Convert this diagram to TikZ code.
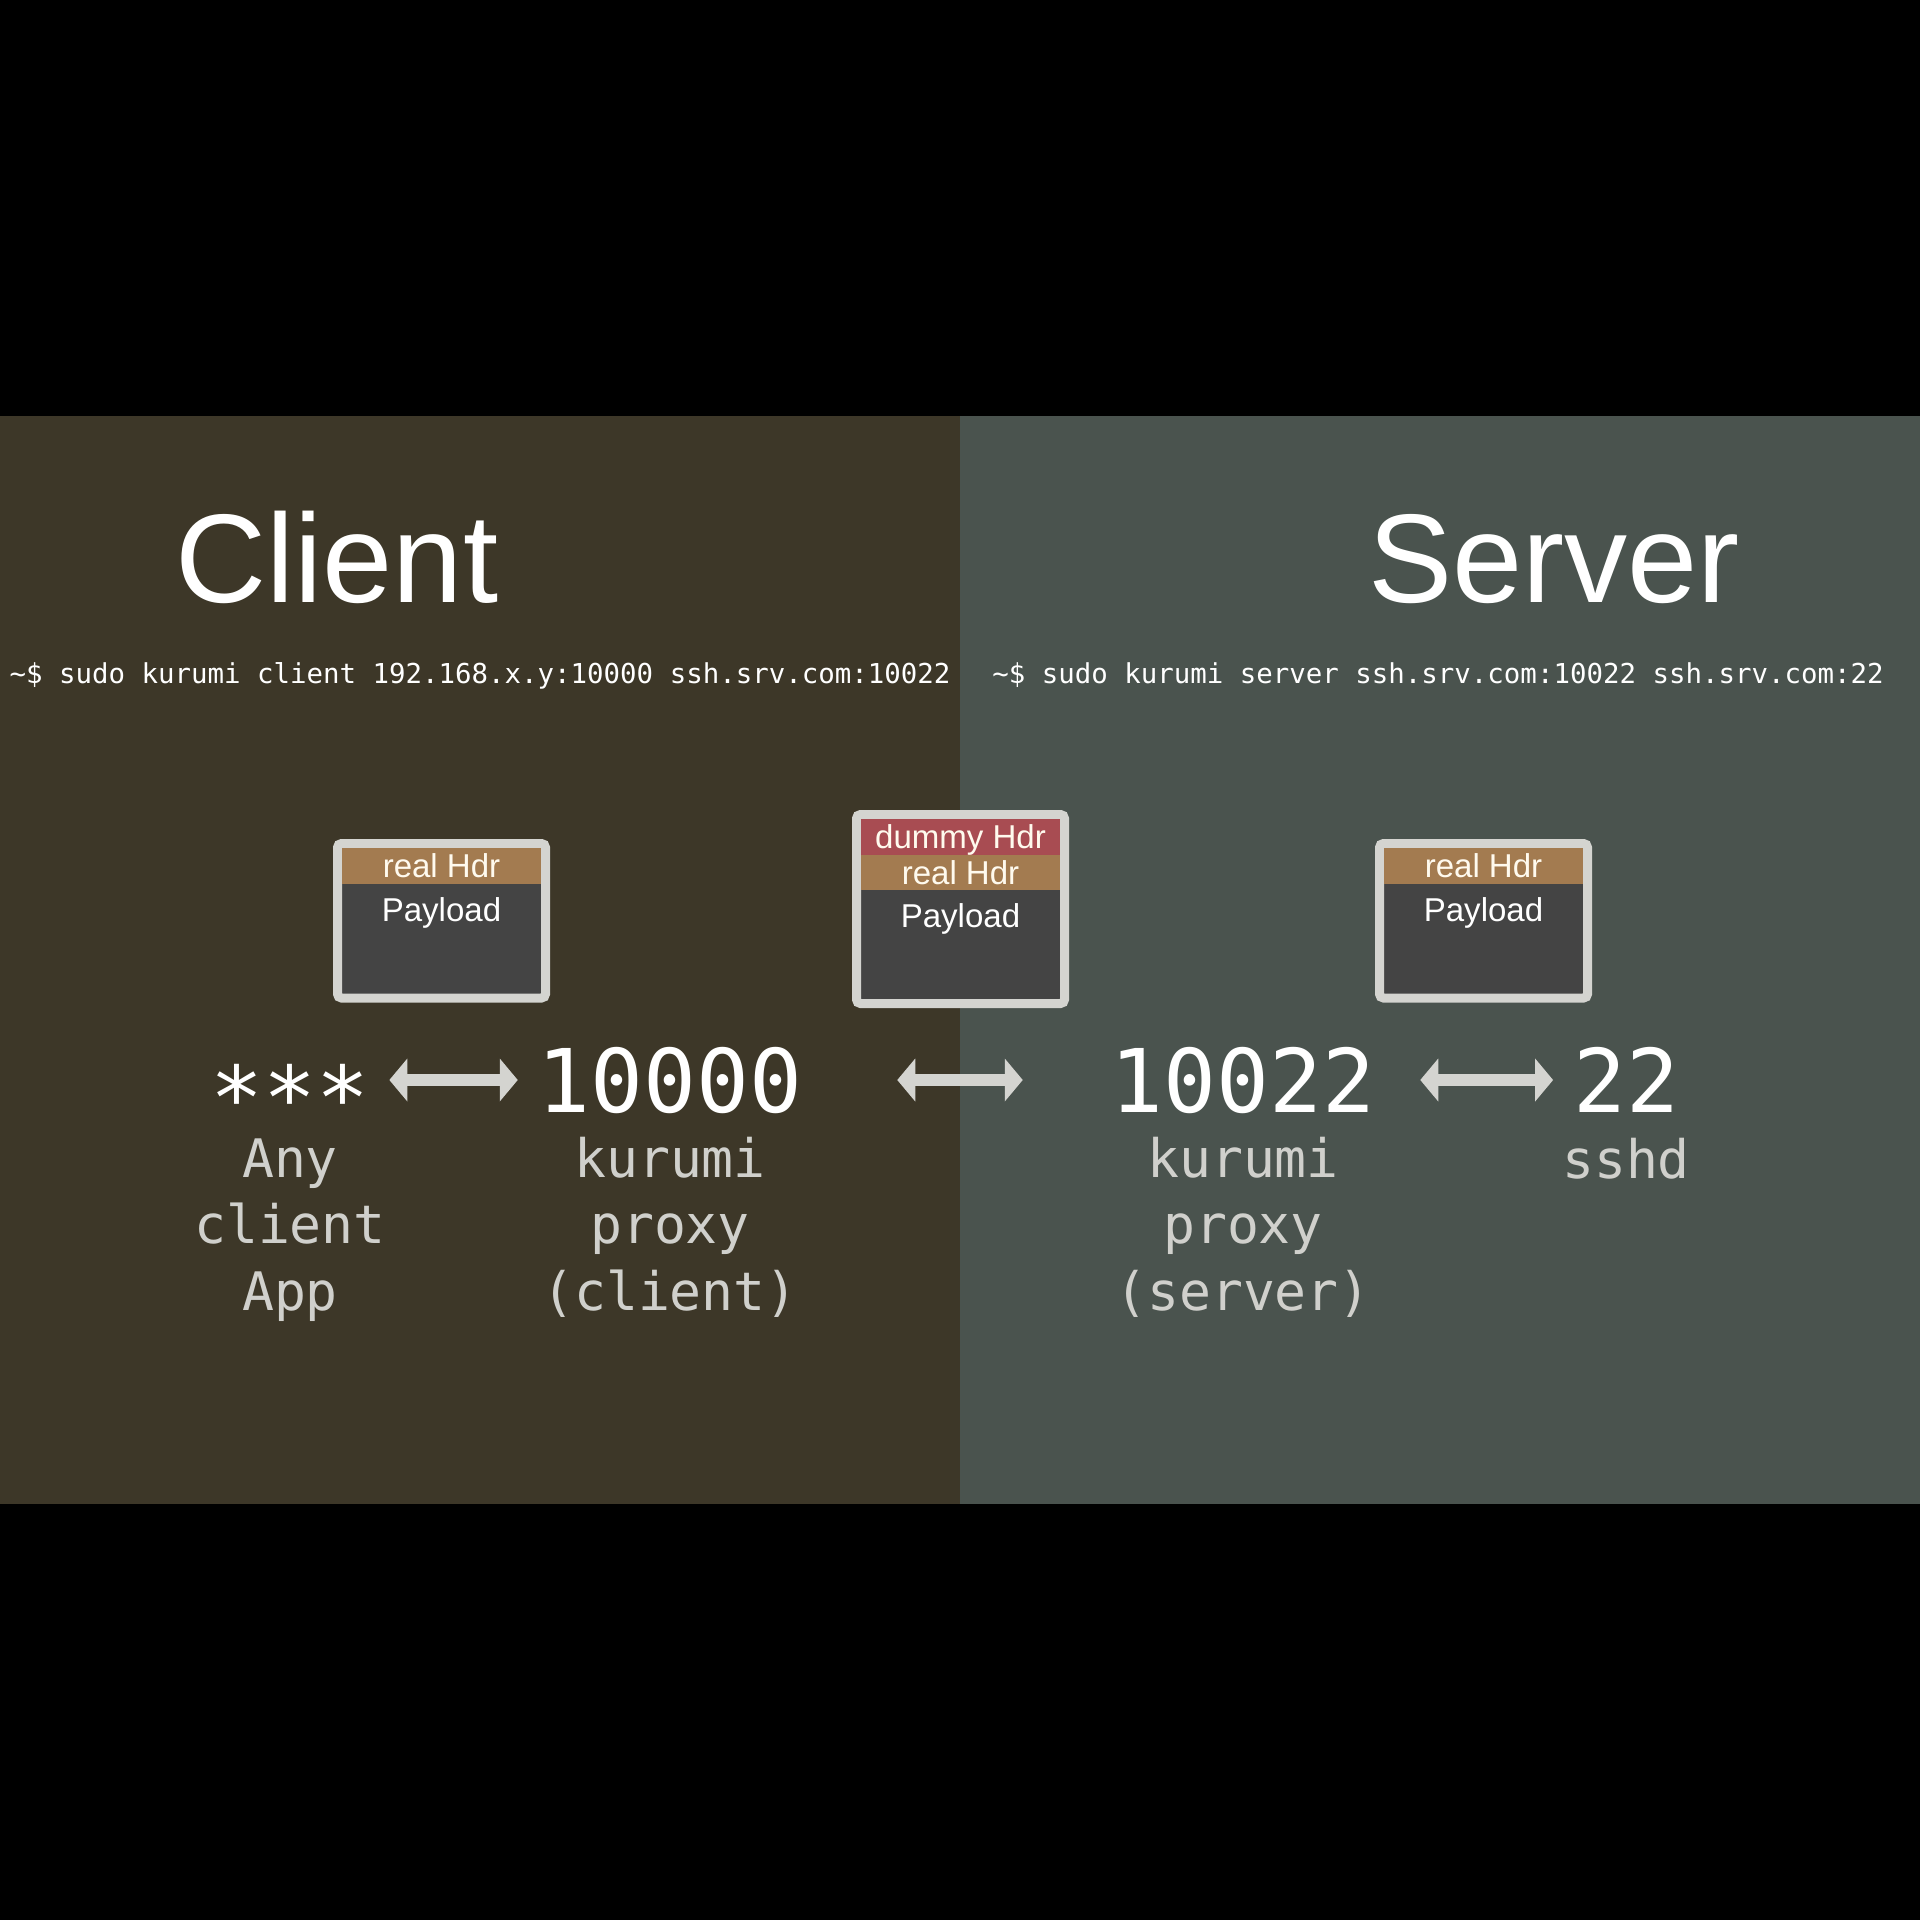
\documentclass[tikz,border=0pt]{standalone}
\usepackage{fontspec}
\setmainfont{Liberation Sans}
\setmonofont{DejaVu Sans Mono}
\usetikzlibrary{arrows.meta,positioning,calc}
\definecolor{clbg}{RGB}{61,55,40}
\definecolor{srvbg}{RGB}{74,83,78}
\definecolor{framecol}{RGB}{212,212,208}
\definecolor{paycol}{RGB}{68,68,68}
\definecolor{realcol}{RGB}{163,123,80}
\definecolor{dummycol}{RGB}{168,76,82}
\definecolor{hdrtext}{RGB}{255,250,238}
\definecolor{lblcol}{RGB}{208,208,204}
\tikzset{
  headline/.style={font=\fontsize{35.9}{43}\selectfont, text=white, anchor=base, inner sep=0pt},
  cmd/.style={font=\ttfamily\fontsize{7.8}{9.4}\selectfont, text=white, anchor=base, inner sep=0pt},
  pkt/.style={draw=framecol, line width=0.09cm, fill=paycol, rounded corners=0.04cm, minimum width=2.08cm, minimum height=#1, inner sep=0pt, outer sep=0pt},
  hdr/.style={fill=#1, minimum width=1.99cm, minimum height=0.355cm, text height=0.24cm, text depth=0cm, inner sep=0pt, outer sep=0pt, font=\fontsize{9.4}{11}\selectfont, text=hdrtext, anchor=north},
  pay/.style={font=\fontsize{9.4}{11}\selectfont, text=white, inner sep=0pt},
  port/.style={font=\ttfamily\fontsize{25}{30}\selectfont, text=white, text height=0.64cm, text depth=0cm, inner sep=0.2cm, outer sep=0pt, anchor=base},
  lbl/.style={font=\ttfamily\fontsize{15.1}{18.8}\selectfont, text=lblcol, align=center, anchor=base, inner sep=0pt},
  dbl/.style={{Triangle[length=0.18cm,width=0.42cm]}-{Triangle[length=0.18cm,width=0.42cm]}, line width=0.12cm, draw=framecol},
}
\begin{document}
\begin{tikzpicture}
  \useasboundingbox (0,0) rectangle (19.2,-19.2);
  % backgrounds
  \fill[black] (0,0) rectangle (19.2,-19.2);
  \fill[clbg] (0,-4.16) rectangle (9.6,-15.04);
  \fill[srvbg] (9.6,-4.16) rectangle (19.2,-15.04);
  % titles and commands
  \node[headline] (cltitle) at (3.37,-6.02) {Client};
  \node[headline] (srvtitle) at (15.54,-6.02) {Server};
  \node[cmd] (clcmd) at (4.80,-6.83) {\textasciitilde\$ sudo kurumi client 192.168.x.y:10000 ssh.srv.com:10022};
  \node[cmd] (srvcmd) at (14.38,-6.83) {\textasciitilde\$ sudo kurumi server ssh.srv.com:10022 ssh.srv.com:22};
  % packets
  \node[pkt=1.545cm] (clpkt) at (4.415,-9.2075) {};
  \node[hdr=realcol] (clhdr) at ([yshift=-0.045cm]clpkt.north) {real Hdr};
  \node[pay, below=0.13cm of clhdr] (clpay) {Payload};
  \node[pkt=1.89cm] (midpkt) at (9.605,-9.09) {};
  \node[hdr=dummycol] (middummy) at ([yshift=-0.045cm]midpkt.north) {dummy Hdr};
  \node[hdr=realcol, below=0pt of middummy] (midreal) {real Hdr};
  \node[pay, below=0.13cm of midreal] (midpay) {Payload};
  \node[pkt=1.545cm] (srvpkt) at (14.835,-9.2075) {};
  \node[hdr=realcol] (srvhdr) at ([yshift=-0.045cm]srvpkt.north) {real Hdr};
  \node[pay, below=0.13cm of srvhdr] (srvpay) {Payload};
  % ports
  \node[port] (app) at (2.90,-11.12) {\raisebox{-0.17cm}{***}};
  \node[port] (cport) at (6.70,-11.12) {10000};
  \node[port] (sport) at (12.43,-11.12) {10022};
  \node[port] (sshport) at (16.26,-11.12) {22};
  % base of a 3-line label is its last line
  \node[lbl] (applbl) at ([yshift=-1.98cm]app.base) {Any\\client\\App};
  \node[lbl] (cportlbl) at ([yshift=-1.98cm]cport.base) {kurumi\\proxy\\(client)};
  \node[lbl] (sportlbl) at ([yshift=-1.98cm]sport.base) {kurumi\\proxy\\(server)};
  \node[lbl] (sshlbl) at ([yshift=-0.66cm]sshport.base) {sshd};
  % links
  \draw[dbl] (app) -- (cport);
  \draw[dbl, shorten <=0.75cm, shorten >=0.68cm] (cport) -- (sport);
  \draw[dbl, shorten <=0.25cm] (sport) -- (sshport);
\end{tikzpicture}
\end{document}
